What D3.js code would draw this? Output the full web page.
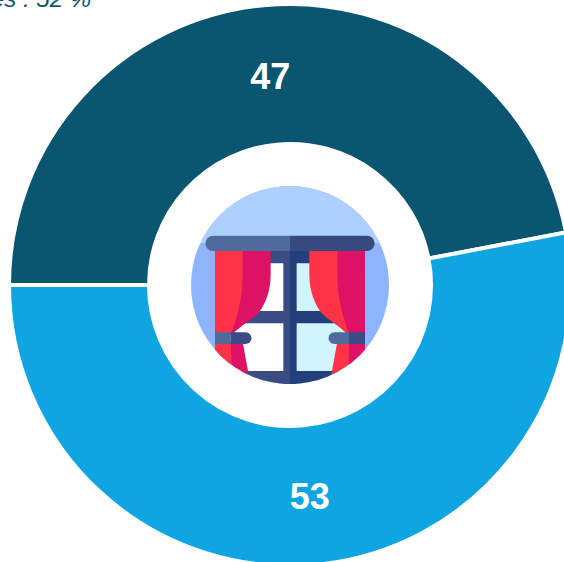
<!DOCTYPE html>
<html><head><meta charset="utf-8">
<script src="https://cdnjs.cloudflare.com/ajax/libs/d3/7.8.5/d3.min.js"></script>
<style>html,body{margin:0;padding:0;background:#fff;overflow:hidden}svg{display:block}</style>
</head><body><div id="c"></div>
<script>
const categories = ["A", "B"];
const values = [47, 53];
const colors = ["#0a5570", "#0ea5e0"];
const caption = "Femmes : 52 %";

const W = 564, H = 562, cx = 290, cy = 285, R = 281, r = 141;
const svg = d3.select("#c").append("svg").attr("width", W).attr("height", H);

svg.append("text").attr("x", 91).attr("y", 7).attr("text-anchor", "end")
  .attr("font-family", "Liberation Sans").attr("font-style", "italic").attr("font-size", 24)
  .attr("fill", "#0a5570").text(caption);

const pie = d3.pie().sort(null).startAngle(-Math.PI / 2).endAngle(1.5 * Math.PI);
const arc = d3.arc().innerRadius(r).outerRadius(R);
const g = svg.append("g").attr("transform", `translate(${cx},${cy})`);
const arcs = pie(values);
g.selectAll("path").data(arcs).join("path").attr("d", arc)
  .attr("fill", (d, i) => colors[i]).attr("stroke", "#fff").attr("stroke-width", 4);
g.selectAll("text").data(arcs).join("text")
  .attr("x", d => arc.centroid(d)[0]).attr("y", d => arc.centroid(d)[1] + 14)
  .attr("text-anchor", "middle").attr("font-family", "Liberation Sans").attr("font-weight", "bold")
  .attr("font-size", 36).attr("fill", "#fff").text(d => d.data);

// Window icon (drawn in a 660-unit box, a 3x view of the 220px icon area)
const defs = svg.append("defs");
defs.append("clipPath").attr("id", "ic").append("circle").attr("cx", 330).attr("cy", 330).attr("r", 297);
const ic = svg.append("g").attr("transform", "translate(180,175) scale(0.33333)").attr("clip-path", "url(#ic)");
const shapes = [
  ["M0,0H660V660H0Z", "#8cb4ff"],
  ["M33,205H627V0H33Z", "#add0ff"],
  ["M150,228H330V620H150Z", "#fff"],
  ["M330,228H510V620H330Z", "#d0f5ff"],
  ["M150,228H330V265H150Z", "#3a4c84"],
  ["M330,228H510V265H330Z", "#22407c"],
  ["M310,228H330V660H310Z", "#3a4c84"],
  ["M330,228H350V660H330Z", "#22407c"],
  ["M150,408H330V445H150Z", "#3a4c84"],
  ["M330,408H510V445H330Z", "#22407c"],
  ["M150,588H330V660H150Z", "#3a4c84"],
  ["M330,588H510V660H330Z", "#22407c"],
  // left curtain
  ["M105,228H272V300C272,350 255,385 240,408C222,432 190,445 155,480H105Z", "#dd1265"],
  ["M105,228H188V300C188,360 175,420 152,480H105Z", "#ff3347"],
  ["M105,500H188L208,610H105Z", "#dd1265"],
  ["M105,500H152L156,610H105Z", "#ff3347"],
  // right curtain
  ["M555,228H388V300C388,350 405,385 420,408C438,432 470,445 505,480H555Z", "#ff3347"],
  ["M555,228H472V300C472,360 485,420 508,480H555Z", "#dd1265"],
  ["M555,500H472L452,610H555Z", "#ff3347"],
  ["M555,500H508L504,610H555Z", "#dd1265"],
  // rod
  ["M99,182H330V228H99A23,23 0 0 1 99,182Z", "#4f6a9c"],
  ["M330,182H561A23,23 0 0 1 561,228H330Z", "#364a80"],
  // tie-backs
  ["M105,472H152V507H105Z", "#4f6a9c"],
  ["M152,472H197A17.5,17.5 0 0 1 197,507H152Z", "#3a4c84"],
  ["M507,472H463A17.5,17.5 0 0 0 463,507H507Z", "#4f6a9c"],
  ["M507,472H555V507H507Z", "#3a4c84"]
];
ic.selectAll("path").data(shapes).join("path").attr("d", d => d[0]).attr("fill", d => d[1]);
</script></body></html>
